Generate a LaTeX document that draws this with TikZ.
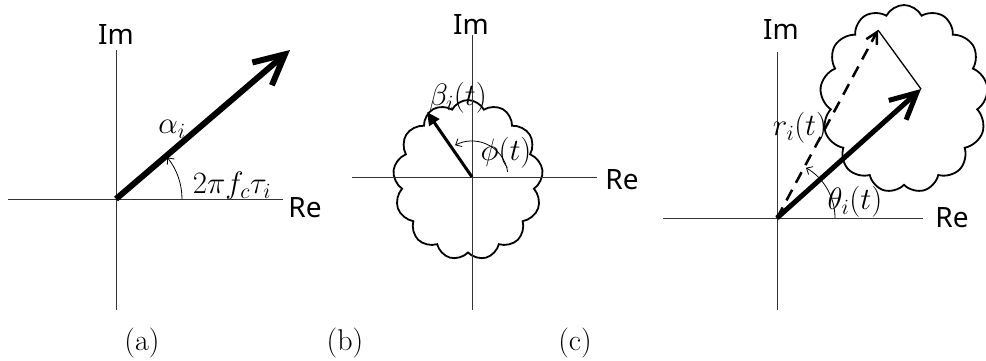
\RequirePackage{fix-cm}
\documentclass[tikz,border=0pt]{standalone}
\usepackage{fontspec}
\newfontfamily\axisfont{Noto Sans}
\usetikzlibrary{arrows.meta,shapes.symbols}
\tikzset{
  axis/.style={line width=0.9pt, draw=black!80},
  axlabel/.style={font=\axisfont\fontsize{28}{32}\selectfont, inner sep=0pt},
  mlabel/.style={font=\fontsize{31}{36}\selectfont, inner sep=0pt},
  caplabel/.style={font=\fontsize{30}{34}\selectfont, inner sep=0pt},
  puff/.style={cloud, draw, cloud puffs=13, cloud puff arc=125, cloud ignores aspect, line width=1.8pt, inner sep=0pt},
  anglearc/.style={line width=0.8pt, -{Straight Barb[length=5pt,width=9pt]}},
}
\begin{document}
\begin{tikzpicture}[x=1pt,y=1pt]
\useasboundingbox (0,0) rectangle (986,360);
% ---------- (a) ----------
\coordinate (Oa) at (116,161);
\coordinate (aT) at (116,310);
\coordinate (aB) at (116,50);
\coordinate (aL) at (8,161);
\coordinate (aR) at (283,161);
\coordinate (aTip) at (290,310);
\draw[axis] (aT) -- (aB);
\draw[axis] (aL) -- (aR);
\node[axlabel] (ima) at (116,325) {Im};
\node[axlabel] (rea) at (305,152) {Re};
\draw[line width=6pt, -{Straight Barb[length=30pt,width=30pt]}] (Oa) -- (aTip);
\draw[anglearc] ([shift={(0:66)}]Oa) arc[start angle=0, end angle=39, radius=66];
\node[mlabel] (alpha) at (172,231) {$\alpha_i$};
\node[mlabel] (phase) at (232,174) {$2\pi f_c\tau_i$};
\node[caplabel] (capa) at (142,17) {(a)};
% ---------- (b) ----------
\node[puff, minimum width=150pt, minimum height=160pt] (cloudb) at (468,180) {};
\coordinate (Ob) at (472,183);
\coordinate (bT) at (472,325);
\coordinate (bB) at (472,50);
\coordinate (bL) at (352,183);
\coordinate (bR) at (597,183);
\coordinate (bTip) at (427,248);
\draw[axis] (bT) -- (bB);
\draw[axis] (bL) -- (bR);
\node[axlabel] (imb) at (471,335) {Im};
\node[axlabel] (reb) at (622,180) {Re};
\draw[line width=3pt, -{Triangle[length=13pt,width=12pt]}] (Ob) -- (bTip);
\draw[anglearc] ([shift={(8:36)}]Ob) arc[start angle=8, end angle=118, radius=36];
\node[mlabel] (beta) at (458,262) {$\beta_i(t)$};
\node[mlabel] (phi) at (506,207) {$\phi(t)$};
\node[caplabel] (capb) at (345,17) {(b)};
% ---------- (c) ----------
\node[puff, minimum width=168pt, minimum height=188pt] (cloudc) at (904,261) {};
\coordinate (Oc) at (777,142);
\coordinate (cT) at (777,308);
\coordinate (cB) at (777,50);
\coordinate (cL) at (663,142);
\coordinate (cR) at (923,142);
\coordinate (cTip) at (921,271);
\coordinate (dTip) at (878,330);
\draw[axis] (cT) -- (cB);
\draw[axis] (cL) -- (cR);
\node[axlabel] (imc) at (781,330) {Im};
\node[axlabel] (rec) at (952,142) {Re};
\draw[line width=2.5pt, dash pattern=on 12pt off 8pt, -{Straight Barb[length=11pt,width=12pt]}] (Oc) -- (dTip);
\draw[line width=1.3pt] (dTip) -- (cTip);
\draw[line width=5pt, -{Straight Barb[length=26pt,width=26pt]}] (Oc) -- (cTip);
\draw[anglearc] ([shift={(0:58)}]Oc) arc[start angle=0, end angle=60, radius=58];
\node[mlabel] (r) at (800,232) {$r_i(t)$};
\node[mlabel] (theta) at (855,158) {$\theta_i(t)$};
\node[caplabel] (capc) at (575,17) {(c)};
\end{tikzpicture}
\end{document}
